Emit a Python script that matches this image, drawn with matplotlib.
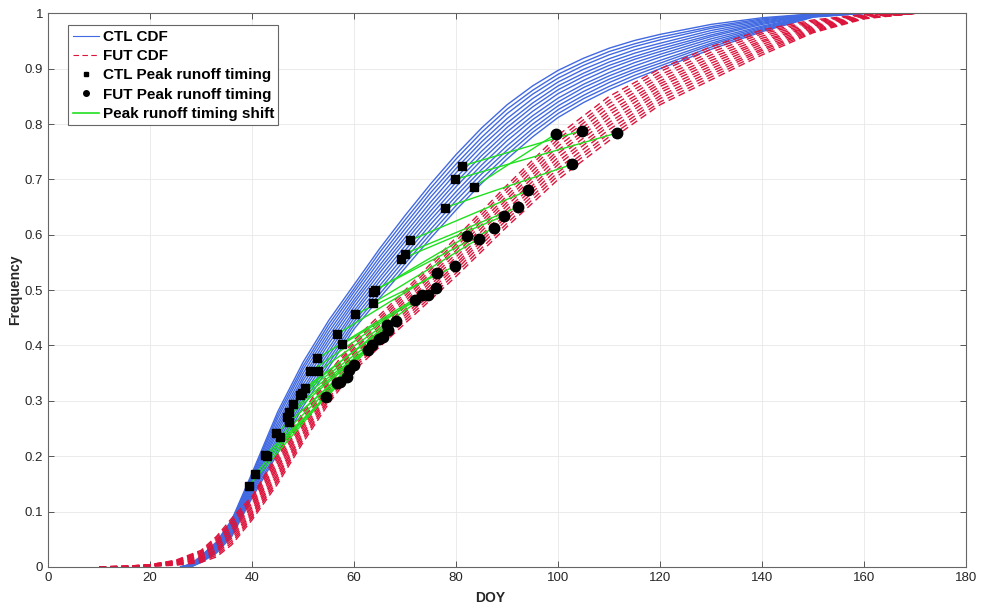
import numpy as np
import matplotlib.pyplot as plt
from matplotlib.lines import Line2D

plt.rcParams['font.family'] = ['Liberation Sans', 'DejaVu Sans']

# DOY grid of the CTL runoff CDFs and one row per CDF curve
doy_ctl = [26, 28, 30, 33, 36, 40, 45, 50, 55, 60, 65, 70, 75, 80, 85, 90, 95, 100, 105, 110, 115, 120,
           130, 140, 150, 160]
ctl_cdf = [
    [0, .005, .020, .045, .085, .170, .280, .370, .445, .510, .575, .635, .692, .745, .793, .835, .869, .897, .919, .937, .951, .962, .980, .992, .999, 1],
    [0, .005, .019, .043, .083, .166, .274, .363, .438, .503, .568, .627, .684, .737, .785, .827, .861, .890, .912, .931, .945, .957, .976, .990, .999, 1],
    [0, .004, .018, .042, .080, .163, .268, .357, .431, .497, .560, .619, .676, .728, .776, .819, .854, .883, .906, .925, .940, .952, .973, .988, .998, 1],
    [0, .004, .017, .040, .078, .159, .261, .350, .424, .490, .553, .611, .668, .720, .768, .810, .846, .876, .899, .918, .934, .946, .969, .986, .998, 1],
    [0, .003, .016, .038, .075, .155, .255, .343, .417, .483, .545, .603, .659, .712, .760, .802, .838, .869, .892, .912, .928, .941, .965, .984, .997, 1],
    [0, .003, .015, .037, .073, .151, .249, .337, .410, .477, .538, .595, .651, .703, .751, .794, .831, .862, .886, .906, .922, .936, .961, .982, .997, 1],
    [0, .003, .014, .035, .070, .148, .243, .330, .403, .470, .531, .588, .643, .695, .743, .786, .823, .855, .879, .900, .917, .931, .958, .980, .996, 1],
    [0, .002, .013, .033, .068, .144, .236, .323, .395, .463, .523, .580, .635, .687, .735, .778, .815, .847, .872, .893, .911, .926, .954, .977, .996, 1],
    [0, .002, .012, .032, .065, .140, .230, .317, .388, .457, .516, .572, .627, .678, .726, .770, .808, .840, .866, .887, .905, .921, .950, .975, .995, 1],
    [0, .001, .011, .030, .063, .136, .224, .310, .381, .450, .508, .564, .619, .670, .718, .761, .800, .833, .859, .881, .899, .915, .946, .973, .995, 1],
    [0, .001, .010, .028, .060, .133, .218, .303, .374, .443, .501, .556, .610, .662, .710, .753, .792, .826, .852, .875, .894, .910, .943, .971, .994, 1],
    [0, 0, .009, .027, .058, .129, .211, .297, .367, .437, .493, .548, .602, .653, .701, .745, .785, .819, .846, .868, .888, .905, .939, .969, .994, 1],
    [0, 0, .008, .025, .055, .125, .205, .290, .360, .430, .486, .540, .594, .645, .693, .737, .777, .812, .839, .862, .882, .900, .935, .967, .993, 1],
]

# DOY grid of the FUT runoff CDFs
doy_fut = [10, 15, 20, 25, 30, 33, 36, 40, 45, 50, 55, 60, 70, 80, 90, 100, 110, 120, 130, 140, 150, 160, 170]
fut_cdf = [
    [0, .001, .004, .012, .030, .055, .088, .128, .205, .280, .350, .410, .500, .595, .690, .780, .850, .900, .940, .970, .988, .998, 1],
    [0, .001, .004, .011, .028, .052, .084, .124, .200, .275, .345, .405, .495, .589, .684, .773, .843, .895, .935, .966, .986, .997, 1],
    [0, .001, .004, .011, .026, .049, .080, .121, .196, .271, .341, .401, .490, .583, .678, .767, .837, .889, .930, .963, .984, .997, 1],
    [0, .001, .003, .010, .025, .046, .076, .117, .191, .266, .336, .396, .485, .578, .671, .760, .830, .884, .925, .959, .982, .996, 1],
    [0, .001, .003, .009, .023, .043, .072, .114, .187, .262, .332, .392, .480, .572, .665, .753, .823, .878, .920, .955, .980, .995, 1],
    [0, .001, .003, .008, .021, .040, .068, .110, .182, .257, .327, .387, .475, .566, .659, .747, .817, .873, .915, .951, .978, .995, 1],
    [0, 0, .003, .008, .019, .037, .064, .107, .178, .253, .323, .383, .470, .560, .653, .740, .810, .868, .910, .948, .977, .994, 1],
    [0, 0, .002, .007, .017, .033, .060, .103, .173, .248, .318, .378, .465, .554, .646, .733, .803, .862, .905, .944, .975, .993, 1],
    [0, 0, .002, .006, .015, .030, .056, .099, .168, .243, .313, .373, .460, .548, .640, .727, .797, .857, .900, .940, .973, .993, 1],
    [0, 0, .002, .005, .014, .027, .052, .096, .164, .239, .309, .369, .455, .543, .634, .720, .790, .851, .895, .936, .971, .992, 1],
    [0, 0, .002, .005, .012, .024, .048, .092, .159, .234, .304, .364, .450, .537, .628, .713, .783, .846, .890, .933, .969, .991, 1],
    [0, 0, .001, .004, .010, .021, .044, .089, .155, .230, .300, .360, .445, .531, .621, .707, .777, .840, .885, .929, .967, .991, 1],
    [0, 0, .001, .003, .008, .018, .040, .085, .150, .225, .295, .355, .440, .525, .615, .700, .770, .835, .880, .925, .965, .990, 1],
]

# peak runoff timing (DOY, CDF value), sorted by CDF value
ctl_peak_doy = [39.4, 40.5, 43.0, 42.5, 45.4, 44.7, 47.3, 46.9, 47.3, 48.1, 49.4, 49.7, 50.4, 51.4, 53.0,
                52.8, 57.6, 56.6, 60.2, 63.6, 63.7, 64.0, 69.2, 70.0, 71.0, 77.8, 83.4, 79.8, 81.1]
ctl_peak_freq = [0.147, 0.167, 0.200, 0.202, 0.234, 0.241, 0.262, 0.271, 0.280, 0.295, 0.310, 0.315, 0.324, 0.353, 0.354,
                 0.377, 0.402, 0.420, 0.456, 0.476, 0.497, 0.500, 0.556, 0.566, 0.590, 0.649, 0.686, 0.700, 0.724]
fut_peak_doy = [54.4, 56.6, 57.3, 58.6, 58.9, 59.9, 62.8, 63.5, 64.8, 65.7, 66.7, 66.4, 68.2, 72.0, 74.4,
                73.3, 76.1, 76.2, 79.7, 84.4, 82.1, 87.5, 89.3, 92.1, 94.1, 102.7, 99.5, 111.6, 104.6]
fut_peak_freq = [0.307, 0.332, 0.334, 0.343, 0.356, 0.365, 0.392, 0.400, 0.411, 0.416, 0.428, 0.437, 0.445, 0.483, 0.492,
                 0.492, 0.503, 0.531, 0.543, 0.593, 0.597, 0.613, 0.634, 0.650, 0.680, 0.727, 0.782, 0.784, 0.788]

blue = '#4169e1'
red = '#dc143c'
green = '#1fe01f'

fig, ax = plt.subplots(figsize=(9.82, 6.05), dpi=100)
fig.subplots_adjust(left=0.049, right=0.984, bottom=0.063, top=0.978)

for c in ctl_cdf:
    ax.plot(doy_ctl, c, color=blue, lw=1.0)
for c in fut_cdf:
    ax.plot(doy_fut, c, color=red, lw=1.0, ls=(0, (5, 3)))

# timing shift: CTL peak -> FUT peak
ax.plot(np.vstack([ctl_peak_doy, fut_peak_doy]), np.vstack([ctl_peak_freq, fut_peak_freq]),
        color=green, lw=1.0)
ax.plot(ctl_peak_doy, ctl_peak_freq, 's', color='k', ms=6, ls='none')
ax.plot(fut_peak_doy, fut_peak_freq, 'o', color='k', ms=7.5, ls='none')

ax.set_xlim(0, 180)
ax.set_ylim(0, 1)
ax.set_xticks(range(0, 181, 20))
yt = np.round(np.arange(0, 1.01, 0.1), 1)
ax.set_yticks(yt)
ax.set_yticklabels(['0' if v == 0 else '1' if v == 1 else f'{v:g}' for v in yt])
ax.tick_params(direction='in', top=True, right=True, length=4, width=0.7,
               labelsize=9.5, colors='#555555', labelcolor='#262626')
for s in ax.spines.values():
    s.set_color('#666666')
    s.set_linewidth(0.8)
ax.grid(True, color='#e8e8e8', lw=0.6)
ax.set_axisbelow(True)

ax.set_xlabel('DOY', fontsize=10, fontweight='bold', color='#262626')
ax.xaxis.set_label_coords(0.481, -0.043)
ax.set_ylabel('Frequency', fontsize=10, fontweight='bold', color='#262626')
ax.yaxis.set_label_coords(-0.028, 0.5)

handles = [
    Line2D([], [], color=blue, lw=0.8),
    Line2D([], [], color=red, lw=0.8, ls=(0, (5, 3))),
    Line2D([], [], color='k', marker='s', ms=3, ls='none'),
    Line2D([], [], color='k', marker='o', ms=4, ls='none'),
    Line2D([], [], color=green, lw=1.2),
]
labels = ['CTL CDF', 'FUT CDF', 'CTL Peak runoff timing', 'FUT Peak runoff timing', 'Peak runoff timing shift']
leg = ax.legend(handles, labels, loc='upper left', bbox_to_anchor=(0.0218, 0.978), borderaxespad=0,
                prop={'weight': 'bold', 'size': 11}, handlelength=1.75, handletextpad=0.2,
                labelspacing=0.34, borderpad=0.3, fancybox=False, framealpha=1)
leg.get_frame().set_edgecolor('#666666')
leg.get_frame().set_linewidth(0.8)

fig.savefig('out.png', dpi=100)
